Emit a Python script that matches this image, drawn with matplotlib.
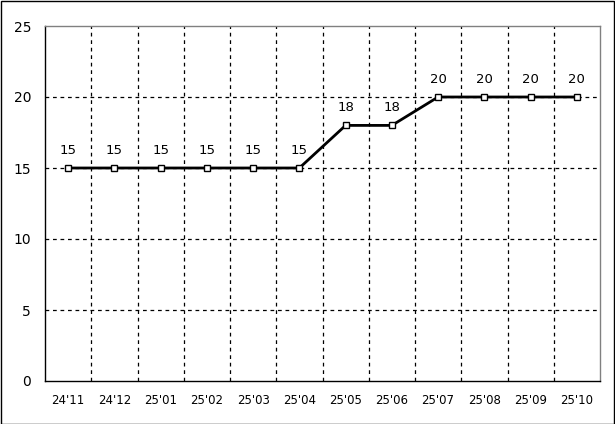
import matplotlib
matplotlib.use("Agg")
import matplotlib.pyplot as plt
from matplotlib.patches import Rectangle

categories = ["24'11", "24'12", "25'01", "25'02", "25'03", "25'04",
              "25'05", "25'06", "25'07", "25'08", "25'09", "25'10"]
values = [15, 15, 15, 15, 15, 15, 18, 18, 20, 20, 20, 20]
yticks = [0, 5, 10, 15, 20, 25]

plt.rcParams['font.family'] = ['DejaVu Sans']
fig = plt.figure(figsize=(6.15, 4.24), dpi=100)
ax = fig.add_axes([45/615, 43/424, 555/615, 355/424])

x = list(range(len(categories)))
ax.plot(x, values, color='black', lw=2, marker='s', markersize=5,
        markerfacecolor='white', markeredgecolor='black', markeredgewidth=1, zorder=3)
for xi, v in zip(x, values):
    ax.annotate(str(v), (xi, v), xytext=(0, 8), textcoords='offset points',
                ha='center', va='bottom', fontsize=9.5)

ax.set_xlim(-0.5, len(categories) - 0.5)
ax.set_ylim(0, 25)
ax.set_yticks(yticks)
ax.set_yticklabels([str(t) for t in yticks], fontsize=10)
ax.set_xticks(x)
ax.set_xticklabels(categories, fontsize=8.5)
ax.tick_params(axis='both', length=0)
ax.tick_params(axis='x', pad=9.5)
ax.tick_params(axis='y', pad=10)

# grid
for b in [i + 0.5 for i in range(len(categories) - 1)]:
    ax.axvline(b, color='black', lw=0.9, ls=(0, (3, 3)), zorder=1)
for t in yticks[1:-1]:
    ax.axhline(t, color='black', lw=0.9, ls=(0, (3, 3)), zorder=1)

ax.spines['top'].set_color('#808080')
ax.spines['right'].set_color('#808080')
ax.spines['left'].set_color('black')
ax.spines['bottom'].set_color('black')
for s in ax.spines.values():
    s.set_linewidth(1)

fig.patches.append(Rectangle((0.5/615, 0.5/424), 1 - 1.5/615, 1 - 1.5/424,
                             transform=fig.transFigure, fill=False,
                             edgecolor='black', lw=1))
fig.savefig("out.png", dpi=100)
